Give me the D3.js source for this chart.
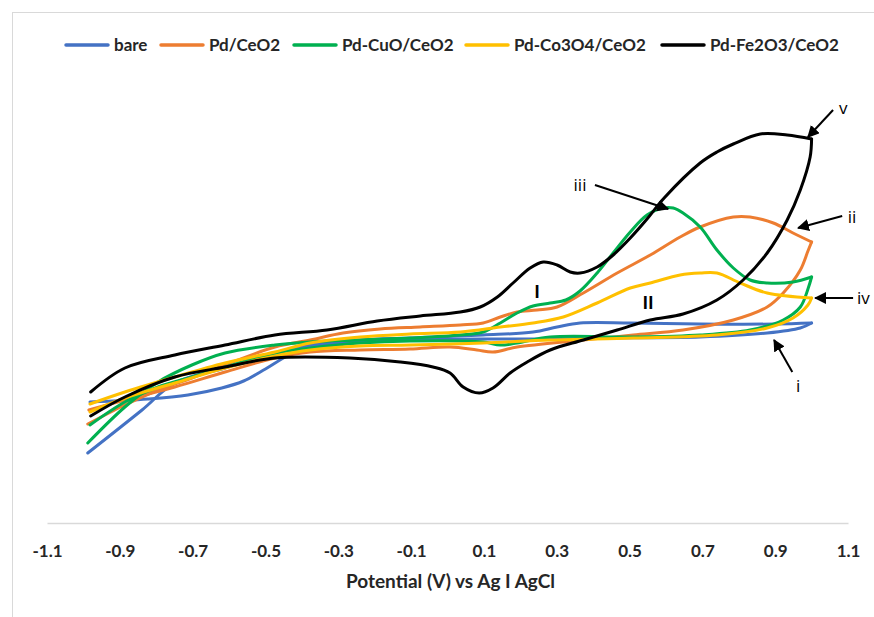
<!DOCTYPE html>
<html>
<head>
<meta charset="utf-8">
<script src="https://cdn.jsdelivr.net/npm/d3@7"></script>
<style>
  body { margin: 0; background: #fff; }
  svg { display: block; font-family: Lato, "Open Sans", sans-serif; }
</style>
</head>
<body>
<div id="chart"></div>
<script>
// Potential ticks and legend
const potentialTicks = [-1.1, -0.9, -0.7, -0.5, -0.3, -0.1, 0.1, 0.3, 0.5, 0.7, 0.9, 1.1];
const seriesNames = ["bare", "Pd/CeO2", "Pd-CuO/CeO2", "Pd-Co3O4/CeO2", "Pd-Fe2O3/CeO2"];
const seriesColors = ["#4472C4", "#ED7D31", "#00B050", "#FFC000", "#000000"];

// CV branches, [potential V, current] (current in arbitrary units)
const bareUpper = [[-0.988, -2.5], [-0.839, 8.25], [-0.749, 15], [-0.611, 18.75], [-0.468, 22.5], [-0.377, 24.5],
  [-0.24, 25.75], [-0.103, 26.25], [0.098, 27], [0.235, 27.75], [0.301, 29], [0.364, 30], [0.502, 30],
  [0.694, 29.75], [0.9, 29.75], [1.0, 30]];
const bareLower = [[-0.982, 10.25], [-0.823, 11], [-0.713, 12], [-0.62, 13.75], [-0.56, 15.5], [-0.5, 18.5],
  [-0.44, 21.75], [-0.377, 24], [-0.24, 25.5], [-0.103, 25.75], [0.098, 26], [0.282, 26], [0.419, 26.25],
  [0.694, 26.5], [0.878, 27.5], [0.969, 28.75], [1.0, 30]];

const pdUpper = [[-0.988, 4.75], [-0.886, 9.5], [-0.795, 13.25], [-0.702, 16.25], [-0.611, 19.5], [-0.474, 24],
  [-0.377, 25.75], [-0.287, 27.5], [-0.185, 28.5], [-0.075, 29], [0.035, 29.5], [0.098, 30], [0.145, 31.5],
  [0.191, 32.75], [0.246, 33.25], [0.301, 34], [0.373, 37.5], [0.466, 42.5], [0.557, 47], [0.639, 51.5],
  [0.694, 54], [0.785, 56.5], [0.831, 56.5], [0.895, 55], [0.949, 52.5], [1.0, 50.25]];
const pdLower = [[-0.985, 8.25], [-0.886, 10.75], [-0.749, 14], [-0.611, 17.75], [-0.474, 21.25], [-0.377, 22.75],
  [-0.24, 23.25], [-0.103, 23.5], [0.007, 24], [0.081, 23.25], [0.125, 22.75], [0.191, 24], [0.373, 25.75],
  [0.51, 27], [0.647, 28.25], [0.785, 30.75], [0.878, 34], [0.922, 37.5], [0.969, 43.25], [0.99, 48], [1.0, 50.25]];

const cuoUpper = [[-0.988, 0], [-0.886, 9], [-0.795, 15.25], [-0.702, 19.5], [-0.611, 22.5], [-0.474, 24.5],
  [-0.377, 25.25], [-0.24, 25.75], [-0.103, 26.25], [0.035, 27], [0.098, 27.75], [0.145, 30], [0.191, 32.5],
  [0.235, 34.25], [0.282, 35], [0.325, 35.75], [0.364, 38], [0.411, 42.5], [0.455, 47.5], [0.502, 52.75],
  [0.548, 57], [0.592, 58.75], [0.62, 58.75], [0.647, 57.5], [0.694, 54], [0.74, 48.25], [0.785, 43.75],
  [0.831, 40.75], [0.878, 40], [0.949, 40.25], [1.0, 41.5]];
const cuoLower = [[-0.982, 4.5], [-0.886, 10.25], [-0.795, 14], [-0.702, 16.5], [-0.611, 19], [-0.474, 22.5],
  [-0.377, 23.75], [-0.24, 25], [-0.103, 25.5], [0.098, 25.25], [0.145, 24.5], [0.191, 25], [0.282, 26.5],
  [0.51, 26.5], [0.694, 27], [0.831, 28.25], [0.922, 30.75], [0.969, 34], [0.99, 38.5], [1.0, 41.5]];

const co3o4Upper = [[-0.982, 9.75], [-0.886, 12.75], [-0.749, 16.5], [-0.611, 20], [-0.474, 22.75], [-0.377, 25],
  [-0.24, 26.5], [-0.103, 27.25], [0.035, 27.75], [0.145, 29], [0.235, 30], [0.318, 31.5], [0.411, 35],
  [0.502, 38.75], [0.557, 40], [0.639, 42], [0.694, 42.5], [0.74, 42.5], [0.804, 40], [0.878, 37.5], [1.0, 36.25]];
const co3o4Lower = [[-0.982, 7.75], [-0.886, 11.25], [-0.749, 15], [-0.611, 18.75], [-0.474, 21.75], [-0.377, 23.25],
  [-0.24, 24.25], [-0.103, 24.5], [0.098, 25], [0.282, 25.75], [0.51, 26.25], [0.74, 27], [0.878, 28.75],
  [0.949, 31.25], [0.99, 34.5], [1.0, 36.25]];

const fe2o3Upper = [[-0.98, 12.75], [-0.886, 18.75], [-0.749, 22], [-0.611, 24.5], [-0.474, 27], [-0.331, 28.25],
  [-0.193, 30.5], [-0.075, 31.75], [0.035, 32.75], [0.09, 34], [0.137, 36.5], [0.18, 40], [0.227, 43.75],
  [0.263, 45.25], [0.301, 44.5], [0.337, 42.75], [0.364, 42.5], [0.411, 44], [0.455, 47], [0.502, 51.25],
  [0.548, 56], [0.595, 61.25], [0.694, 70], [0.74, 72.75], [0.785, 74.75], [0.859, 77.25], [0.933, 77], [1.0, 76]];
const fe2o3Lower = [[-0.98, 6.75], [-0.886, 11.5], [-0.749, 16.5], [-0.611, 19], [-0.474, 21.25], [-0.268, 21.25],
  [-0.13, 20.25], [-0.04, 19], [0.007, 17.5], [0.043, 14], [0.087, 12.5], [0.125, 13.75], [0.172, 17.5],
  [0.219, 20.25], [0.282, 23.25], [0.373, 25.75], [0.466, 28.25], [0.557, 30.75], [0.647, 32.25], [0.74, 35.75],
  [0.812, 40.75], [0.878, 47.5], [0.933, 55.75], [0.969, 63.25], [0.996, 71.5], [1.0, 76]];

const seriesBranches = [
  [bareUpper, bareLower],
  [pdUpper, pdLower],
  [cuoUpper, cuoLower],
  [co3o4Upper, co3o4Lower],
  [fe2o3Upper, fe2o3Lower]
];

// Labels i-v with arrows, I / II peaks (in data units)
const arrowNotes = [
  {label: "v", at: [1.087, 83.75], from: [1.059, 83.25], to: [0.99, 76.5]},
  {label: "ii", at: [1.111, 56.5], from: [1.084, 56.75], to: [0.963, 53.75]},
  {label: "iii", at: [0.364, 64.5], from: [0.405, 64.5], to: [0.606, 58.5]},
  {label: "iv", at: [1.142, 36.25], from: [1.114, 36.25], to: [1.01, 36.25]},
  {label: "i", at: [0.963, 14.25], from: [0.947, 17.75], to: [0.897, 25.75]}
];
const peakNotes = [
  {label: "I", at: [0.246, 37.75]},
  {label: "II", at: [0.551, 35]}
];

const W = 874, H = 617;

const svg = d3.select("#chart").append("svg")
    .attr("width", W)
    .attr("height", H);

// chart border
svg.append("rect")
    .attr("x", 12.5).attr("y", 12.5)
    .attr("width", W + 20).attr("height", H + 20)
    .attr("fill", "none")
    .attr("stroke", "#d9d9d9");

const x = d3.scaleLinear().domain([-1.1, 1.1]).range([47, 848]);
const y = d3.scaleLinear().domain([-20, 80]).range([523, 123]);

// X axis
const xAxis = svg.append("g")
    .attr("transform", "translate(0," + y(-20) + ")")
    .call(d3.axisBottom(x).tickValues(potentialTicks).tickSize(0).tickPadding(22)
      .tickFormat(d => d.toFixed(1)));
xAxis.select(".domain").attr("stroke", "#d9d9d9").attr("stroke-width", 1.3);
xAxis.selectAll("text")
    .attr("font-family", "Lato, sans-serif")
    .attr("font-size", 17)
    .attr("font-weight", "bold")
    .attr("fill", "#262626");

svg.append("text")
    .attr("x", (x(-1.1) + x(1.1)) / 2 + 3)
    .attr("y", 588)
    .attr("text-anchor", "middle")
    .attr("font-size", 19)
    .attr("font-weight", "bold")
    .attr("fill", "#262626")
    .text("Potential (V) vs Ag I AgCl");

// Curves
const line = d3.line()
    .x(d => x(d[0]))
    .y(d => y(d[1]))
    .curve(d3.curveCatmullRom.alpha(0.5));

seriesBranches.forEach((branches, i) => {
  branches.forEach(b => {
    svg.append("path")
        .datum(b.slice().sort((a, c) => a[0] - c[0]))
        .attr("d", line)
        .attr("fill", "none")
        .attr("stroke", seriesColors[i])
        .attr("stroke-width", 3)
        .attr("stroke-linecap", "round")
        .attr("stroke-linejoin", "round");
  });
});

// Legend
const legendStarts = [66, 161, 294, 466, 662];
seriesNames.forEach((name, i) => {
  const lx = legendStarts[i];
  svg.append("line")
      .attr("x1", lx).attr("x2", lx + 42)
      .attr("y1", 45).attr("y2", 45)
      .attr("stroke", seriesColors[i])
      .attr("stroke-width", 3.5)
      .attr("stroke-linecap", "round");
  svg.append("text")
      .attr("x", lx + 48)
      .attr("y", 51)
      .attr("font-size", 17)
      .attr("font-weight", "bold")
      .attr("fill", "#262626")
      .text(name);
});

// Annotations
svg.append("defs").append("marker")
    .attr("id", "arrow")
    .attr("viewBox", "0 0 10 10")
    .attr("refX", 9).attr("refY", 5)
    .attr("markerWidth", 6).attr("markerHeight", 6)
    .attr("orient", "auto")
  .append("path")
    .attr("d", "M0,0L10,5L0,10z")
    .attr("fill", "#000");

arrowNotes.forEach(n => {
  svg.append("line")
      .attr("x1", x(n.from[0])).attr("y1", y(n.from[1]))
      .attr("x2", x(n.to[0])).attr("y2", y(n.to[1]))
      .attr("stroke", "#000")
      .attr("stroke-width", 2)
      .attr("marker-end", "url(#arrow)");
  svg.append("text")
      .attr("x", x(n.at[0]))
      .attr("y", y(n.at[1]))
      .attr("dy", "0.35em")
      .attr("text-anchor", "middle")
      .attr("font-family", "'Open Sans', sans-serif")
      .attr("font-size", 17)
      .text(n.label);
});

peakNotes.forEach(n => {
  svg.append("text")
      .attr("x", x(n.at[0]))
      .attr("y", y(n.at[1]))
      .attr("dy", "0.35em")
      .attr("text-anchor", "middle")
      .attr("font-family", "'Open Sans', sans-serif")
      .attr("font-size", 17)
      .attr("font-weight", "bold")
      .text(n.label);
});
</script>
</body>
</html>
